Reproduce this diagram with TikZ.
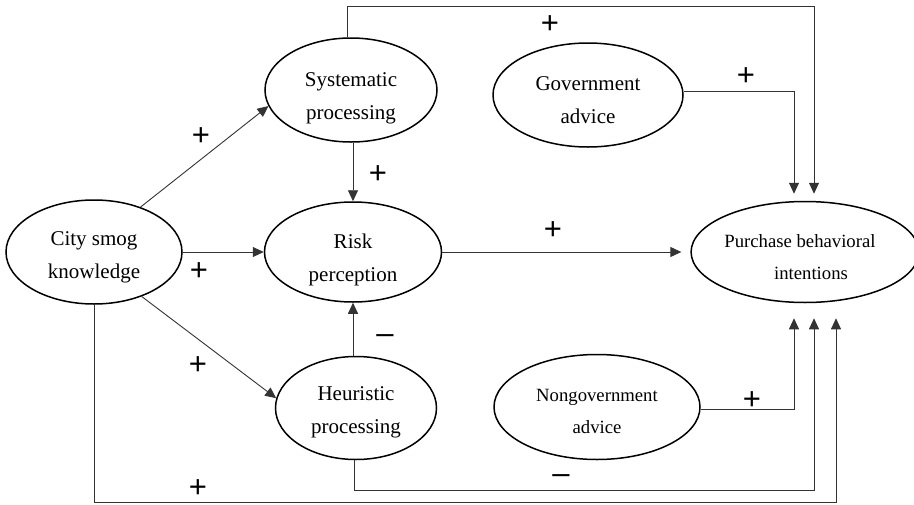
\documentclass[tikz,border=0pt]{standalone}
\usepackage{fontspec}
\setmainfont{Liberation Serif}
\newfontfamily\signfont{Liberation Sans}
\usetikzlibrary{shapes.geometric,arrows.meta}
\begin{document}
\begin{tikzpicture}[x=1pt,y=-1pt,
 ell/.style={ellipse, draw=black, line width=1.5pt, inner sep=0pt, align=center,
   font=\fontsize{21}{33}\selectfont},
 ellsm/.style={ell, font=\fontsize{18.7}{32}\selectfont},
 conn/.style={draw=black!80, line width=0.9pt, -{Triangle[length=11pt,width=10pt]}},
 sign/.style={font=\signfont\fontsize{31}{31}\selectfont, inner sep=0pt,
   text height=16pt, text depth=0pt}]
\useasboundingbox (0,0) rectangle (914,504);

% ellipses
\node[ell, minimum width=176pt, minimum height=104pt] (city) at (94,252)
  {\rule{0pt}{25.3pt}City smog\\knowledge};
\node[ell, minimum width=172pt, minimum height=104pt] (sys) at (351,90)
  {\rule{0pt}{31.3pt}Systematic\\processing};
\node[ell, minimum width=177pt, minimum height=100pt] (risk) at (353,252)
  {\rule{0pt}{30.3pt}Risk\\perception};
\node[ell, minimum width=161pt, minimum height=103pt] (heur) at (356,408)
  {\rule{0pt}{22.3pt}Heuristic\\processing};
\node[ell, minimum width=190pt, minimum height=104pt] (gov) at (588,95)
  {\rule{0pt}{23.2pt}Government\\advice};
\node[ellsm, minimum width=206pt, minimum height=105pt] (ngov) at (597,407)
  {\rule{0pt}{20.4pt}Nongovernment\\advice};
\node[ellsm, minimum width=216pt, minimum height=101pt] (pur) at (805,252)
  {\rule{0pt}{22.8pt}Purchase behavioral\hspace*{10pt}\\\hspace*{12pt}intentions};

% connectors
\draw[conn] (city.44) -- (sys.191);
\draw[conn] (city.east) -- (risk.west);
\draw[conn] (city.317) -- (heur.173);
\draw[conn] (sys.south -| risk.north) -- (risk.north);
\draw[conn] (heur.north -| risk.south) -- (risk.south);
\draw[conn, shorten >=9pt] (risk.east) -- (pur.west);
\draw[conn, shorten >=7pt] ([xshift=-4pt]sys.north) -- ++(0,-31) -| ([xshift=9pt]pur.north);
\draw[conn, shorten >=7pt] ([yshift=4pt]gov.east) -| ([xshift=-11pt]pur.north);
\draw[conn, shorten >=15pt] ([yshift=-2.5pt]ngov.east) -| ([xshift=-11pt]pur.south);
\draw[conn, shorten >=15pt] ([xshift=-2pt]heur.south) -- ++(0,30) -| ([xshift=9pt]pur.south);
\draw[conn, shorten >=15pt] (city.south) -- ++(0,198) -| ([xshift=31pt]pur.south);

% signs
\node[sign] (p1) at (550,25.9) {+};
\node[sign] (p2) at (746,77.9) {+};
\node[sign] (p3) at (378,175.9) {+};
\node[sign] (p4) at (201,137.9) {+};
\node[sign] (p5) at (199,272.9) {+};
\node[sign] (p6) at (198,366.9) {+};
\node[sign] (p7) at (198,489.2) {+};
\node[sign] (p8) at (553,231.9) {+};
\node[sign] (p9) at (752,401.9) {+};
\node[sign] (m1) at (385,335.4) {–};
\node[sign] (m2) at (561,475.4) {–};
\end{tikzpicture}
\end{document}
